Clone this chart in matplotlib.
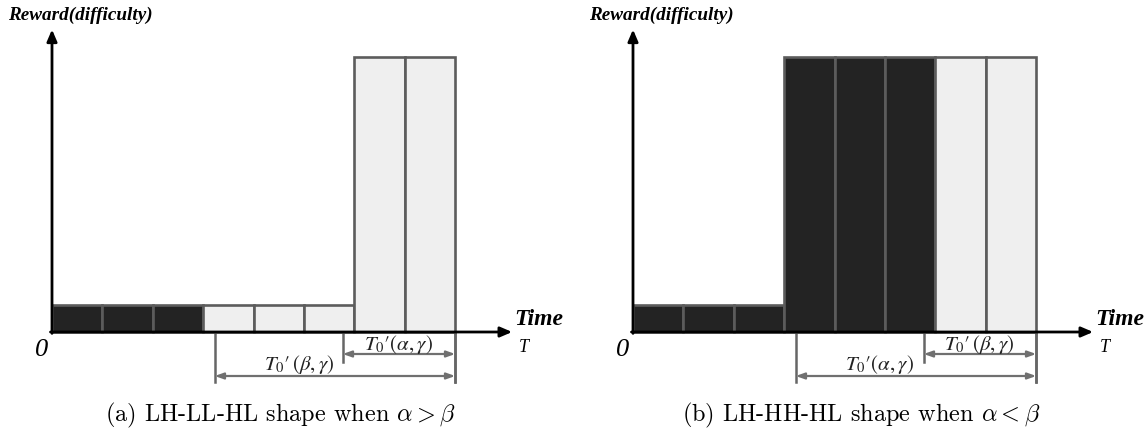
import numpy as np
import matplotlib
matplotlib.use("Agg")
import matplotlib.pyplot as plt

plt.rcParams['mathtext.fontset'] = 'stix'

# ---- data ----
n_cells = 8
left_heights = [1, 1, 1, 1, 1, 1, 10, 10]
left_kinds = ["H", "H", "H", "L", "L", "L", "L", "L"]
right_heights = [1, 1, 1, 10, 10, 10, 10, 10]
right_kinds = ["H", "H", "H", "H", "H", "H", "L", "L"]

# bracket endpoints (in cell units): (start, end, label)
left_brackets = [(5.77, 8.0, r"$T_0{\prime}(\alpha,\gamma)$"),
                 (3.23, 8.0, r"$T_0{\prime}\,(\beta,\gamma)$")]
right_brackets = [(5.77, 8.0, r"$T_0{\prime}\,(\beta,\gamma)$"),
                  (3.23, 8.0, r"$T_0{\prime}(\alpha,\gamma)$")]

captions = [r"(a) LH-LL-HL shape when $\alpha > \beta$",
            r"(b) LH-HH-HL shape when $\alpha < \beta$"]

colors = {"H": "#232323", "L": "#efefef"}
edge = "#5c5c5c"

W, H = 1148, 438
fig = plt.figure(figsize=(W / 100, H / 100), dpi=100)

px_x = 50.4   # pixels per cell
px_y = 27.5   # pixels per height unit
xlim = (-1.0, 10.5)
ylim = (-3.6, 12.0)


def make_axes(origin_px):
    ox, oy = origin_px
    left = ox - (0 - xlim[0]) * px_x
    bottom_from_top = oy + (0 - ylim[0]) * px_y
    width = (xlim[1] - xlim[0]) * px_x
    height = (ylim[1] - ylim[0]) * px_y
    ax = fig.add_axes([left / W, (H - bottom_from_top) / H, width / W, height / H])
    ax.set_xlim(*xlim)
    ax.set_ylim(*ylim)
    ax.axis("off")
    return ax


def draw_panel(ax, heights, kinds, brackets, caption):
    xs = np.arange(len(heights)) + 0.5
    ax.bar(xs, heights, width=1.0, color=[colors[k] for k in kinds],
           edgecolor=edge, linewidth=1.9, zorder=2)
    # axes arrows
    ax.annotate("", xy=(9.13, 0), xytext=(-0.03, 0),
                arrowprops=dict(arrowstyle="-|>,head_length=0.7,head_width=0.3",
                                lw=2.0, color="black", shrinkA=0, shrinkB=0),
                zorder=5)
    ax.annotate("", xy=(0, 11.0), xytext=(0, -0.05),
                arrowprops=dict(arrowstyle="-|>,head_length=0.7,head_width=0.3",
                                lw=2.0, color="black", shrinkA=0, shrinkB=0),
                zorder=5)
    # brackets
    levels = [-0.8, -1.6]
    label_y = [-0.45, -1.18]
    label_x = [6.88, 4.9]
    vlens = [-1.1, -1.82]
    for (x0, x1, lab), lev, vl, ly, lx in zip(brackets, levels, vlens, label_y, label_x):
        ax.plot([x0, x0], [0, vl], color="#666666", lw=1.8, zorder=3)
        ax.plot([x1, x1], [0, -1.82], color="#666666", lw=1.8, zorder=3)
        ax.annotate("", xy=(x1, lev), xytext=(x0, lev),
                    arrowprops=dict(arrowstyle="<|-|>,head_length=0.5,head_width=0.18",
                                    lw=1.6, color="#707070", shrinkA=0, shrinkB=0))
        ax.text(lx, ly, lab, ha="center", va="center", fontsize=15, color="#222222")
    ax.text(-0.88, 11.53, "Reward(difficulty)", ha="left", va="center",
            fontsize=13.8, fontweight="bold", fontstyle="italic",
            family="Liberation Serif")
    ax.text(9.17, 0.44, "Time", ha="left", va="center", fontsize=17,
            fontweight="bold", fontstyle="italic", family="Liberation Serif")
    ax.text(-0.2, -0.65, "0", ha="center", va="center", fontsize=19,
            fontstyle="italic", family="Liberation Serif")
    ax.text(9.36, -0.58, "T", ha="center", va="center", fontsize=13,
            fontstyle="italic", family="Liberation Serif")
    ax.text(4.53, -3.05, caption, ha="center", va="center", fontsize=17.5,
            family="cmr10", math_fontfamily="cm")


ax1 = make_axes((52, 332))
draw_panel(ax1, left_heights, left_kinds, left_brackets, captions[0])
ax2 = make_axes((633, 332))
draw_panel(ax2, right_heights, right_kinds, right_brackets, captions[1])

fig.savefig("out.png", dpi=100)
